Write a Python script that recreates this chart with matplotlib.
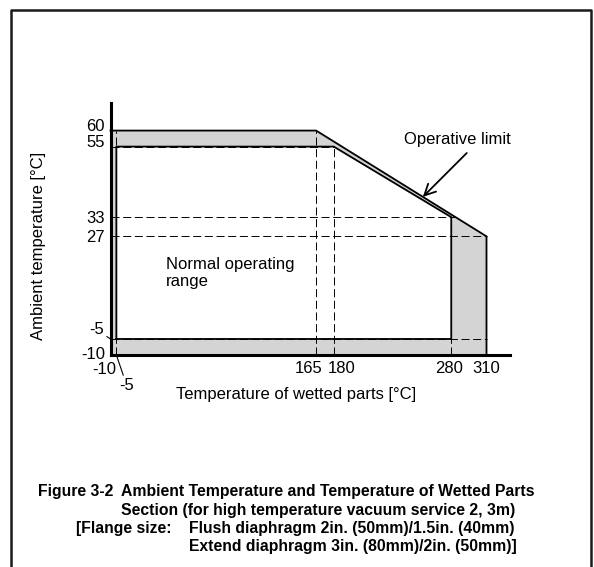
import numpy as np
import matplotlib
import matplotlib.pyplot as plt
from matplotlib.lines import Line2D
from matplotlib.transforms import ScaledTranslation

matplotlib.rcParams["font.family"] = ["Liberation Sans", "DejaVu Sans"]
matplotlib.rcParams["lines.scale_dashes"] = False

# operative limit (outer) and normal operating range (inner), in degC
outer_x = [-10, -10, 165, 310, 310]
outer_y = [-10, 60, 60, 27, -10]
inner_x = [-5, -5, 180, 280, 280]
inner_y = [-5, 55, 55, 33, -5]

x_ticks = [-10, 165, 180, 280, 310]
y_ticks = [-10, 27, 33, 55, 60]

caption = [
    ("Figure 3-2", "Ambient Temperature and Temperature of Wetted Parts"),
    ("", "Section (for high temperature vacuum service 2, 3m)"),
    ("[Flange size:", "Flush diaphragm 2in. (50mm)/1.5in. (40mm)"),
    ("", "Extend diaphragm 3in. (80mm)/2in. (50mm)]"),
]

W, H = 594, 567
fig = plt.figure(figsize=(W / 100, H / 100), dpi=100)
ax = fig.add_axes([110.5 / W, 1 - 355 / H, 399.5 / W, 252 / H])
ax.set_xlim(-10, 330)
ax.set_ylim(-10, 68.6)

grey = "#d4d4d4"
dash = (0, (5.8, 2.6))

# grey band = operative limit
ax.fill(outer_x, outer_y, color=grey, lw=0, zorder=1)
ax.plot(outer_x[1:], outer_y[1:], color="black", lw=1.3, zorder=4, clip_on=False)

# white = normal operating range
ax.fill(inner_x, inner_y, facecolor="white", edgecolor="none", zorder=2)
ax.plot(inner_x + inner_x[:1], inner_y + inner_y[:1], color="black", lw=1.3, zorder=4)

# dashed guide lines
x33 = np.interp(inner_y[3], [outer_y[3], outer_y[2]], [outer_x[3], outer_x[2]])
guides = [
    ([outer_x[2], outer_x[2]], [-10, outer_y[2]]),
    ([inner_x[2], inner_x[2]], [-10, inner_y[2]]),
    ([inner_x[3], inner_x[3]], [-10, inner_y[0]]),
    ([inner_x[0], inner_x[0]], [-10, outer_y[1]]),
    ([-10, x33], [inner_y[3], inner_y[3]]),
    ([-10, outer_x[3]], [outer_y[3], outer_y[3]]),
    ([-10, outer_x[4]], [inner_y[0], inner_y[0]]),
    ([-10, inner_x[2]], [inner_y[1], inner_y[1]]),
]
for gx, gy in guides:
    ax.plot(gx, gy, color="black", lw=0.7, ls=dash, zorder=3)

for s in ["top", "right"]:
    ax.spines[s].set_visible(False)
for s in ["left", "bottom"]:
    ax.spines[s].set_linewidth(2.2)
    ax.spines[s].set_capstyle("projecting")
    ax.spines[s].set_zorder(5)

ax.set_xticks(x_ticks, [str(v) for v in x_ticks])
ax.set_yticks(y_ticks, [str(v) for v in y_ticks])
ax.tick_params(axis="both", length=0, labelsize=12, colors="black")
ax.tick_params(axis="x", pad=4)
ax.tick_params(axis="y", pad=4)

def shift(label, dx, dy):
    label.set_transform(label.get_transform() +
                        ScaledTranslation(dx / 100, dy / 100, fig.dpi_scale_trans))

xoff = {-10: (-6, -1.5), 165: (-8, 0), 180: (8, 0), 280: (-2, 0)}
yoff = {60: 5.5, 55: 6, -10: 2}
for v, lab in zip(x_ticks, ax.get_xticklabels()):
    shift(lab, *xoff.get(v, (0, 0)))
for v, lab in zip(y_ticks, ax.get_yticklabels()):
    shift(lab, 0, yoff.get(v, 0))

# -5 labels with leader lines
ax.annotate("-5", xy=(-10, inner_y[0]), xytext=(-10, 6.5), textcoords="offset points",
            ha="center", va="center", fontsize=12,
            arrowprops=dict(arrowstyle="-", lw=0.8, shrinkA=0, shrinkB=0))
ax.annotate("-5", xy=(inner_x[0], -10), xytext=(7.5, -22), textcoords="offset points",
            ha="center", va="center", fontsize=12, annotation_clip=False,
            arrowprops=dict(arrowstyle="-", lw=0.8, shrinkA=0, shrinkB=1))

ax.set_xlabel("Temperature of wetted parts [°C]", fontsize=12)
ax.set_ylabel("Ambient temperature [°C]", fontsize=12)
ax.xaxis.set_label_coords((296 - 110.5) / 399.5, -40 / 252)
ax.xaxis.label.set_va("center")
ax.yaxis.set_label_coords(-72 / 399.5, 109 / 252)
ax.yaxis.label.set_va("center")

ax.text(37.4, 15.6, "Normal operating\nrange", fontsize=12, ha="left", va="center",
        linespacing=1.2, zorder=6)
ax.text(285.6, 57.1, "Operative limit", fontsize=12, ha="center", va="center")
ax.annotate("", xy=(255.8, 39.3), xytext=(293.2, 53.0),
            arrowprops=dict(arrowstyle="->,head_length=0.8,head_width=0.4",
                            lw=1.3, color="black", shrinkA=0, shrinkB=0))

# frame around the figure (open at the bottom)
fig.add_artist(Line2D([11 / W, 11 / W, 591 / W, 591 / W],
                      [0, 1 - 10 / H, 1 - 10 / H, 0],
                      transform=fig.transFigure, color="#1a1a1a", lw=1.8))

# caption
rows_y = [491.7, 510, 528.3, 546.7]
for (head, body), py in zip(caption, rows_y):
    if head:
        hx = 38 if head.startswith("Figure") else 76
        fig.text(hx / W, 1 - py / H, head, fontsize=11.3, fontweight="bold",
                 ha="left", va="center")
    bx = 121 if py < 520 else 189
    fig.text(bx / W, 1 - py / H, body, fontsize=11.3, fontweight="bold",
             ha="left", va="center")

fig.savefig("out.png", dpi=100)
